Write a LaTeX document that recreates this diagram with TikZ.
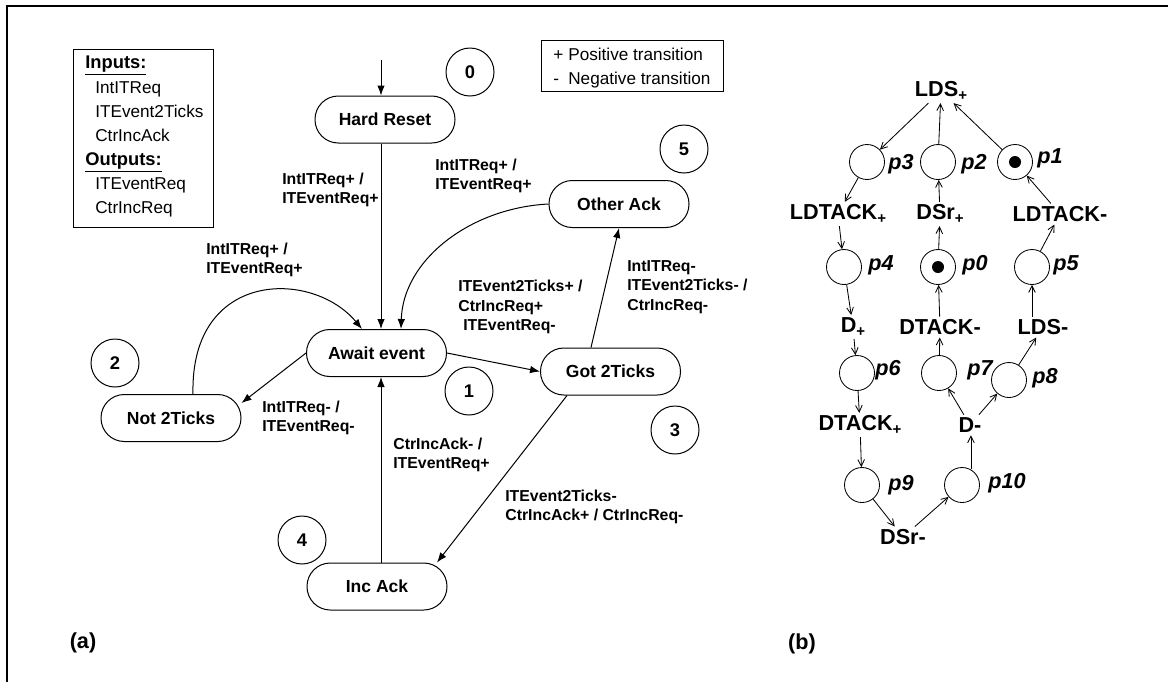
\documentclass[tikz,border=0pt]{standalone}
\usepackage{fontspec}
\setmainfont{Liberation Sans}
\usetikzlibrary{arrows.meta}
\newcommand{\petitplus}{\raisebox{-0.3ex}{\fontsize{9}{9}\selectfont +}}

\begin{document}
\begin{tikzpicture}[x=0.6pt, y=-0.6pt,
	etat/.style={draw, line width=0.6pt, rounded corners=14pt, minimum width=84pt, minimum height=28.2pt, font=\fontsize{10.5}{12}\selectfont\bfseries},
	numero/.style={draw, circle, line width=0.6pt, minimum size=28.8pt, inner sep=0pt, font=\fontsize{11}{12}\selectfont\bfseries},
	etiq/.style={align=left, anchor=west, inner sep=0pt, font=\fontsize{9.5}{11.6}\selectfont\bfseries},
	legende/.style={anchor=base west, inner sep=0pt, font=\fontsize{10.3}{12}\selectfont},
	titre/.style={anchor=base west, inner sep=0pt, font=\fontsize{11}{12}\selectfont\bfseries},
	fleche/.style={line width=0.6pt, -{Latex[length=6pt,width=4.5pt]}},
	place/.style={draw, circle, line width=0.5pt, minimum size=21pt, inner sep=0pt},
	trans/.style={inner sep=1.5pt, font=\fontsize{13}{14}\selectfont\bfseries},
	nomp/.style={anchor=west, inner sep=0pt, font=\fontsize{13}{14}\selectfont\bfseries\itshape},
	arc/.style={line width=0.5pt, -{Straight Barb[length=4pt,width=4pt]}}]
	\useasboundingbox (0,0) rectangle (1168,682);
	
	% Cadre
	\draw[line width=1pt] (1168,6) -- (7,6) -- (7,682);
	\node[font=\fontsize{13}{14}\selectfont\bfseries] (a) at (83,643) {(a)};
	\node[font=\fontsize{13}{14}\selectfont\bfseries] (b) at (802,644) {(b)};
	
	% Legendes
	\draw[line width=0.6pt] (73,49) rectangle (213,227);
	\node[titre] (tin) at (85,68) {\underline{Inputs:}};
	\foreach \t/\y in {IntITReq/93, ITEvent2Ticks/117, CtrIncAck/141}
		\node[legende] (in\y) at (95,\y) {\t};
	\node[titre] (tout) at (85,165) {\underline{Outputs:}};
	\foreach \t/\y in {ITEventReq/189, CtrIncReq/213}
		\node[legende] (out\y) at (95,\y) {\t};
	\draw[line width=0.6pt] (541,40) rectangle (723,91);
	\node[legende] (pos) at (553,60) {\makebox[9pt][l]{+}Positive transition};
	\node[legende] (neg) at (553,84) {\makebox[9pt][l]{-}Negative transition};
	
	% Etats
	\node[etat] (hr) at (385,119.5) {Hard Reset};
	\node[etat] (oa) at (619,204) {Other Ack};
	\node[etat] (ae) at (376.5,353) {Await event};
	\node[etat] (g2) at (610.5,371.5) {Got 2Ticks};
	\node[etat] (nt) at (171,418) {Not 2Ticks};
	\node[etat] (ia) at (377,586.5) {Inc Ack};
	\foreach \n/\x/\y in {0/470/72, 1/469/391, 2/115/363, 3/675/430, 4/302/540, 5/684/149}
		\node[numero] (c\n) at (\x,\y) {\n};
	
	% Transitions
	\coordinate (init) at (381,60);
	\draw[fleche] (init) -- (init |- hr.north);
	\draw[fleche] (hr.south -| init) -- (ae.north -| init);
	\draw[fleche] (ia.north -| init) -- (ae.south -| init);
	\draw[fleche] (oa.west) .. controls (470,208) and (403,260) .. ([xshift=14.7pt]ae.north);
	\draw[fleche] (nt.north) ++(13.2pt,0) .. controls (190,270) and (312,269) .. ([xshift=-8.7pt]ae.north);
	\draw[fleche] (ae.west) -- ([yshift=9pt]nt.east);
	\draw[fleche] (ae.east) -- (g2.west);
	\draw[fleche] ([xshift=-11.7pt]g2.north) -- (oa.south);
	\draw[fleche] ([xshift=-26.1pt]g2.south) -- ([xshift=36pt]ia.north);
	
	\node[etiq] (e1) at (282,190) {IntITReq+ /\\ITEventReq+};
	\node[etiq] (e2) at (435,176) {IntITReq+ /\\ITEventReq+};
	\node[etiq] (e3) at (206,260) {IntITReq+ /\\ITEventReq+};
	\node[etiq] (e4) at (262,418) {IntITReq- /\\ITEventReq-};
	\node[etiq] (e5) at (458,307) {ITEvent2Ticks+ /\\CtrIncReq+\\\hspace{3pt}ITEventReq-};
	\node[etiq] (e6) at (627,287) {IntITReq-\\ITEvent2Ticks- /\\CtrIncReq-};
	\node[etiq] (e7) at (505,507) {ITEvent2Ticks-\\CtrIncAck+ / CtrIncReq-};
	\node[etiq] (e8) at (393,455) {CtrIncAck- /\\ITEventReq+};
	
	% Reseau de Petri
	\node[trans] (ldsp) at (941,91) {LDS\petitplus};
	\node[trans] (ldtackp) at (838,214) {LDTACK\petitplus};
	\node[trans] (dsrp) at (940,214) {DSr\petitplus};
	\node[trans] (ldtackm) at (1060,214) {LDTACK-};
	\node[trans] (dp) at (853,327) {D\petitplus};
	\node[trans] (dtackm) at (940,327) {DTACK-};
	\node[trans] (ldsm) at (1043,327) {LDS-};
	\node[trans] (dtackp) at (860,425) {DTACK\petitplus};
	\node[trans] (dm) at (970,425) {D-};
	\node[trans] (dsrm) at (903,537) {DSr-};
	
	\foreach \p/\x/\y in {3/867/162, 2/938/162, 1/1015/162, 4/844/267, 0/938/267, 5/1032/267,
		6/857/373, 7/939/373, 8/1009/380, 9/862/485, 10/962/485}
		\node[place] (p\p) at (\x,\y) {};
	\fill (p1) circle (3.6pt);
	\fill (p0) circle (3.6pt);
	\foreach \p/\x/\y in {3/888/164, 2/961/164, 1/1037/158, 4/868/265, 0/962/265, 5/1053/265,
		6/875/370, 7/967/370, 8/1032/378, 9/888/485, 10/988/483}
		\node[nomp] (lp\p) at (\x,\y) {p\p};
	
	\foreach \a/\b in {ldsp/p3, p2/ldsp, p1/ldsp, p3/ldtackp, dsrp/p2, ldtackm/p1, ldtackp/p4,
		p0/dsrp, p5/ldtackm, p4/dp, dtackm/p0, dp/p6, p7/dtackm, p8/ldsm, p6/dtackp,
		dm/p7, dm/p8, dtackp/p9, p9/dsrm, dsrm/p10}
		\draw[arc] (\a) -- (\b);
	\draw[arc] (ldsm.north -| p5.south) -- (p5.south);
	\draw[arc] (p10.60) -- (p10.60 |- dm.south);
\end{tikzpicture}
\end{document}
